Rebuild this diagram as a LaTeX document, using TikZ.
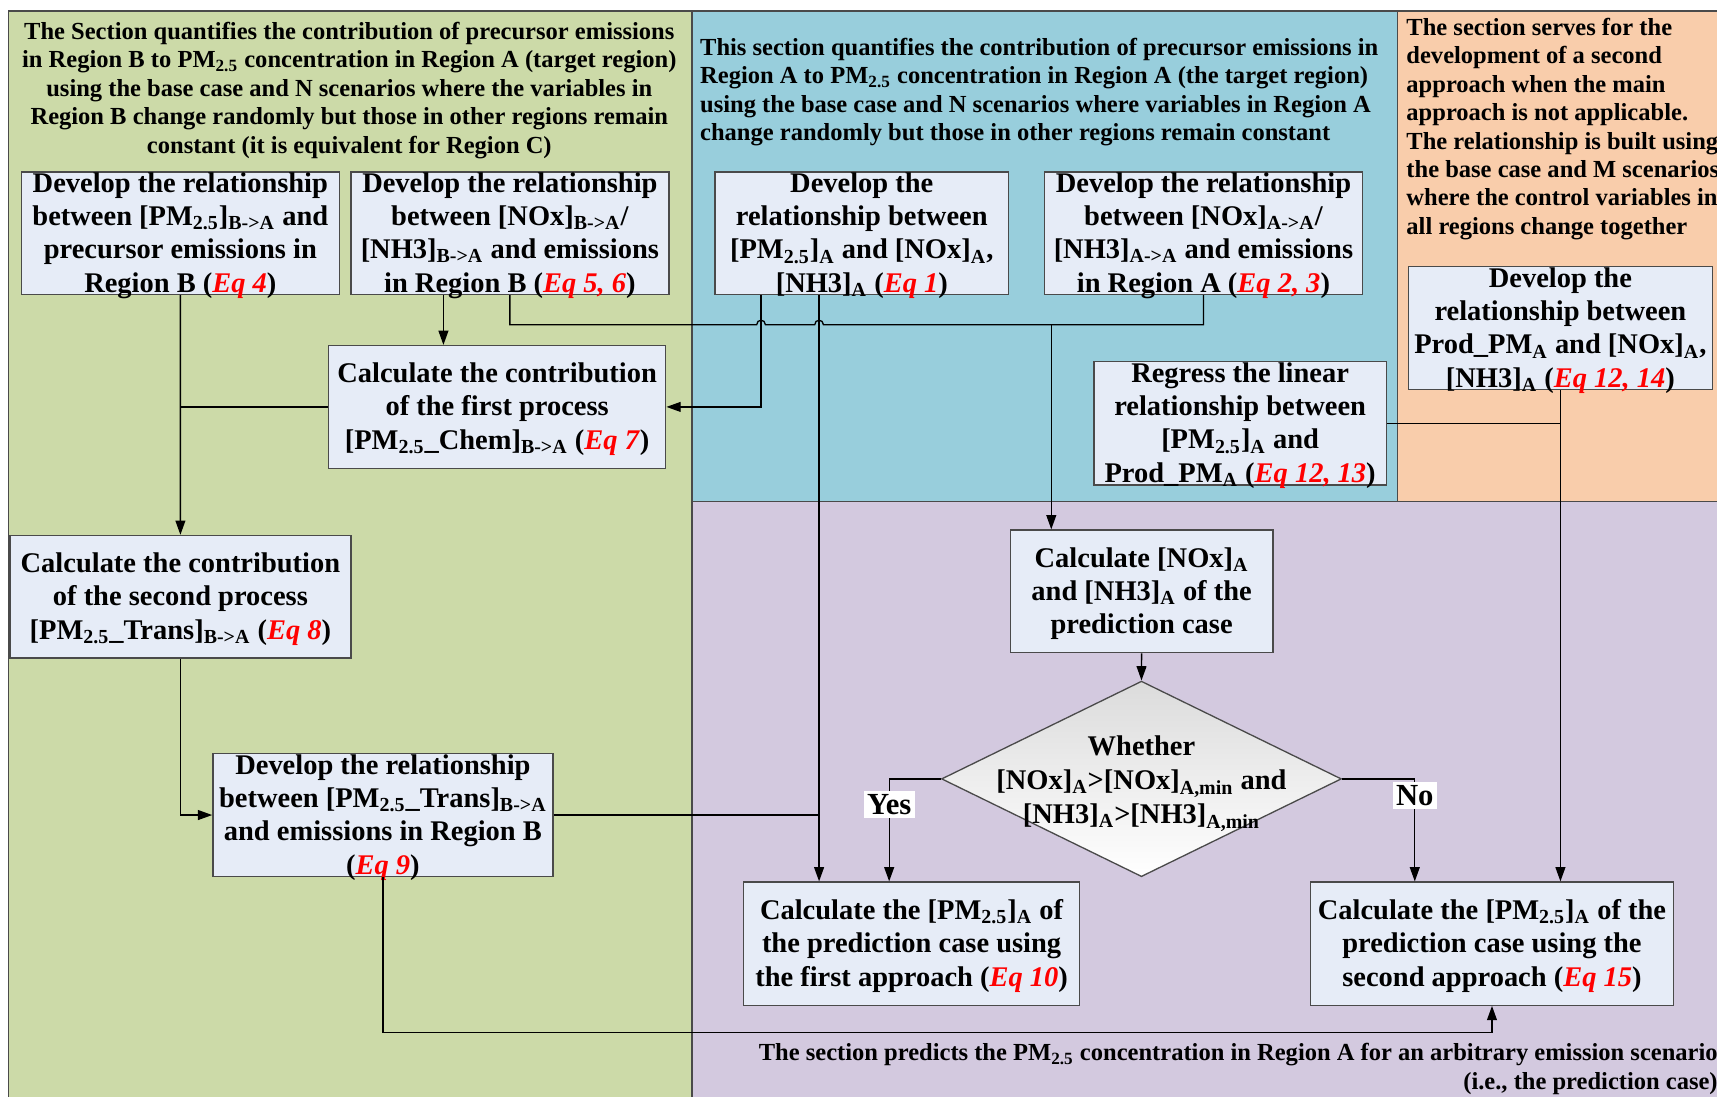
\documentclass[tikz,border=0pt]{standalone}
\usepackage{fontspec}
\setmainfont{Liberation Serif}
\usetikzlibrary{shapes.geometric,arrows.meta,calc,fit}
\definecolor{pgreen}{HTML}{CCDAA8}
\definecolor{pblue}{HTML}{98CEDC}
\definecolor{porange}{HTML}{F9CDAB}
\definecolor{ppurple}{HTML}{D3C9DF}
\definecolor{boxfill}{HTML}{E6ECF7}
\definecolor{edge}{HTML}{4A4A4A}
\definecolor{eqred}{HTML}{FF0000}
\newcommand\sbs[1]{\textsubscript{#1}}
\newcommand\eqn[1]{\textcolor{eqred}{\textit{Eq #1}}}
\newcommand\pmt{PM\sbs{2.5}}
\newcommand\mkbox[6]{\node[bx, fit={(#2,#3) (#4,#5)}] (#1) {}; \node[bt] (#1t) at (#1.center) {#6};}
\begin{document}
\begin{tikzpicture}[x=0.5pt,y=-0.5pt,
 panel/.style={draw=edge, line width=0.6pt},
 bx/.style={draw=edge, fill=boxfill, line width=0.6pt, inner sep=0pt},
 bt/.style={align=center, inner sep=0pt, yshift=-1pt, font=\fontsize{13}{15.2}\selectfont\bfseries},
 hd/.style={inner sep=0pt, font=\fontsize{11.2}{13}\selectfont\bfseries},
 conn/.style={draw=black, line width=0.6pt},
 arr/.style={conn, -{Triangle[length=6.5pt,width=4.5pt]}},
 lbl/.style={fill=white, inner sep=1.5pt, font=\fontsize{14}{16}\selectfont\bfseries},
 dec/.style={diamond, draw=edge, line width=0.6pt, top color=black!14, bottom color=white, inner sep=0pt, minimum width=182.6pt, minimum height=89.3pt}
]
\useasboundingbox (0,0) rectangle (1568,1001);
\begin{scope}
\clip (0,0) rectangle (1568,1001);
\fill[white] (0,0) rectangle (1568,1001);
% panels
\path[panel, fill=pgreen] (8,10) rectangle (632,1012);
\path[panel, fill=pblue] (632,10) rectangle (1276,458);
\path[panel, fill=porange] (1276,10) rectangle (1590,458);
\path[panel, fill=ppurple] (632,458) rectangle (1590,1012);
% headers
\node[hd, align=center] (hg) at (319,82.5) {The Section quantifies the contribution of precursor emissions\\ in Region B to \pmt\ concentration in Region A (target region)\\ using the base case and N scenarios where the variables in\\ Region B change randomly but those in other regions remain\\ constant (it is equivalent for Region C)};
\node[hd, align=left, anchor=west] (hb) at (639,84.2) {This section quantifies the contribution of precursor emissions in\\ Region A to \pmt\ concentration in Region A (the target region)\\ using the base case and N scenarios where variables in Region A\\ change randomly but those in other regions remain constant};
\node[hd, align=left, anchor=west] (ho) at (1284,117.7) {The section serves for the\\ development of a second\\ approach when the main\\ approach is not applicable.\\ The relationship is built using\\ the base case and M scenarios\\ where the control variables in\\ all regions change together};
\node[hd, align=right, anchor=east] (hp) at (1569,976) {The section predicts the \pmt\ concentration in Region A for an arbitrary emission scenario\\{}(i.e., the prediction case)};
% boxes
\mkbox{B1}{19.6}{157}{309.8}{269}{Develop the relationship\\ between [\pmt]\sbs{B->A} and\\ precursor emissions in\\ Region B (\eqn{4})}
\mkbox{B2}{320.5}{157}{610.8}{269}{Develop the relationship\\ between [NOx]\sbs{B->A}/\\{}[NH3]\sbs{B->A} and emissions\\ in Region B (\eqn{5, 6})}
\mkbox{A1}{653}{157}{921}{269}{Develop the\\ relationship between\\{}[\pmt]\sbs{A} and [NOx]\sbs{A},\\{}[NH3]\sbs{A} (\eqn{1})}
\mkbox{A2}{954}{157}{1244}{269}{Develop the relationship\\ between [NOx]\sbs{A->A}/\\{}[NH3]\sbs{A->A} and emissions\\ in Region A (\eqn{2, 3})}
\mkbox{O1}{1286}{243.5}{1564}{356}{Develop the\\ relationship between\\ Prod\_PM\sbs{A} and [NOx]\sbs{A},\\{}[NH3]\sbs{A} (\eqn{12, 14})}
\mkbox{C1}{300}{315.6}{608}{427.6}{Calculate the contribution\\ of the first process\\{}[\pmt\_Chem]\sbs{B->A} (\eqn{7})}
\mkbox{R1}{999}{330}{1266}{443}{Regress the linear\\ relationship between\\{}[\pmt]\sbs{A} and\\ Prod\_PM\sbs{A} (\eqn{12, 13})}
\mkbox{C2}{9}{489}{320.5}{601}{Calculate the contribution\\ of the second process\\{}[\pmt\_Trans]\sbs{B->A} (\eqn{8})}
\mkbox{D9}{194.4}{688}{505}{800.6}{Develop the relationship\\ between [\pmt\_Trans]\sbs{B->A}\\ and emissions in Region B\\{}(\eqn{9})}
\mkbox{N1}{922.5}{484}{1162.6}{596}{Calculate [NOx]\sbs{A}\\ and [NH3]\sbs{A} of the\\ prediction case}
\mkbox{P1}{679}{805.5}{986}{918}{Calculate the [\pmt]\sbs{A} of\\ the prediction case using\\ the first approach (\eqn{10})}
\mkbox{P2}{1197}{805.5}{1528}{918}{Calculate the [\pmt]\sbs{A} of the\\ prediction case using the\\ second approach (\eqn{15})}
\node[dec] (D) at (1042.4,711.3) {};
\node[bt, yshift=-1pt, font=\fontsize{13}{15.7}\selectfont\bfseries] (Dt) at (1042.4,711.5) {Whether\\{}[NOx]\sbs{A}>[NOx]\sbs{A,min} and\\{}[NH3]\sbs{A}>[NH3]\sbs{A,min}};
% helper coordinates
\coordinate (hy) at ($(B2.south)+(0,27)$);
\coordinate (a1l) at ($(A1.south)+(-92,0)$);
\coordinate (a1r) at ($(A1.south)+(-39,0)$);
\coordinate (b2l) at ($(B2.south)+(-60.7,0)$);
\coordinate (jn) at ($(N1.north)+(-82.5,0)$);
\coordinate (ys) at ($(P1.north)+(-20.5,0)$);
\coordinate (ns) at ($(P2.north)+(-70.5,0)$);
% connectors
\draw[arr] (B1.south) -- (C2.north);
\draw[conn] (C1.west) -- (C1.west -| B1.south);
\draw[arr] (b2l) -- (b2l |- C1.north);
\draw[conn] (B2.south) -- (B2.south |- hy) -- ($(a1l |- hy)+(-4,0)$) .. controls +(0,-5.5) and +(0,-5.5) .. ($(a1l |- hy)+(4,0)$) -- ($(a1r |- hy)+(-4,0)$) .. controls +(0,-5.5) and +(0,-5.5) .. ($(a1r |- hy)+(4,0)$) -- (A2.south |- hy) -- (A2.south);
\draw[arr] (jn |- hy) -- (jn);
\draw[arr] (a1l) |- (C1.east);
\draw[arr] (a1r) -- (a1r |- P1.north);
\draw[conn] (D9.east) -- (D9.east -| a1r);
\draw[arr] (C2.south) |- (D9.west);
\draw[arr] (D9.south) -- ++(0,141.4) -| (P2.south);
\draw[arr] (N1.south) -- (D.north);
\draw[arr] (D.west) -| (ys);
\draw[arr] (D.east) -| (ns);
\draw[arr] (O1.south) -- (O1.south |- P2.north);
\draw[conn] (R1.east) -- (R1.east -| O1.south);
\node[lbl] (yes) at ($(ys)+(0,-70)$) {Yes};
\node[lbl] (no) at ($(ns)+(0,-78.5)$) {No};
\end{scope}
\end{tikzpicture}
\end{document}
